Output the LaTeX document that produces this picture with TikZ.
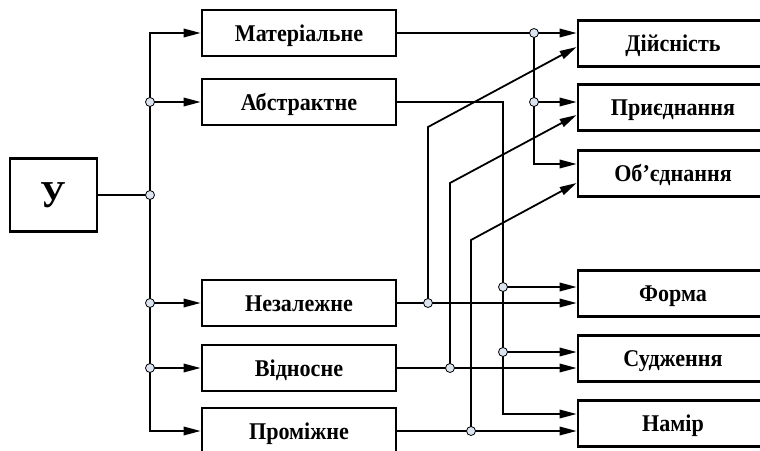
\documentclass[tikz,border=0pt]{standalone}
\usepackage{fontspec}
\setmainfont{Liberation Serif}[FakeStretch=0.92]
\usetikzlibrary{arrows.meta}
\definecolor{dotfill}{HTML}{DCE4F0}

\begin{document}
\begin{tikzpicture}[x=1pt,y=-1pt,
  box/.style={draw, line width=2.8pt, inner sep=0pt, minimum height=46pt,
    text height=16pt, text depth=0pt,
    font=\bfseries\fontsize{24}{26}\selectfont},
  lbox/.style={box, minimum width=194pt},
  rbox/.style={box, minimum width=190pt},
  dot/.style={circle, draw, fill=dotfill, line width=0.8pt, inner sep=0pt, minimum size=9pt},
  line/.style={line width=1.8pt},
  >={Triangle[length=17pt,width=8.5pt]}]
\useasboundingbox (0,0) rectangle (760,450);

\node[box, minimum width=87pt, minimum height=73pt, text height=25pt,
  font=\bfseries\fontsize{38}{40}\selectfont] (u) at (53.5,195) {У};

\node[lbox] (mat) at (299,33) {Матеріальне};
\node[lbox] (abs) at (299,102) {Абстрактне};
\node[lbox] (nez) at (299,303) {Незалежне};
\node[lbox] (vid) at (299,368) {Відносне};
\node[lbox] (pro) at (299,431) {Проміжне};

\node[rbox] (dij) at (673,43.5) {Дійсність};
\node[rbox] (pri) at (673,107.5) {Приєднання};
\node[rbox] (obj) at (673,173.5) {Об’єднання};
\node[rbox] (for) at (673,293.5) {Форма};
\node[rbox] (sud) at (673,358.5) {Судження};
\node[rbox] (nam) at (673,423.5) {Намір};

\coordinate (bus) at (150,195);
\coordinate (jm) at (534,33);
\coordinate (ja) at (503,102);
\coordinate (jn) at (428,303);
\coordinate (jv) at (450,368);
\coordinate (jp) at (471,431);

% left bus
\draw[line] (u.east) -- (bus);
\foreach \b in {mat,abs,nez,vid,pro}
  \draw[line,->] (bus) |- (\b.west);

% right side
\draw[line,->] (mat.east) -- (mat.east -| dij.west);
\draw[line,->] (jm) |- (pri.west |- abs.east);
\draw[line,->] (jm) |- ([yshift=9.5pt]obj.west);
\draw[line,->] (abs.east) -- (ja) |- ([yshift=9.5pt]nam.west);
\draw[line,->] (ja |- 0,287) -- ([yshift=6.5pt]for.west);
\draw[line,->] (ja |- 0,352) -- ([yshift=6.5pt]sud.west);
\draw[line,->] (nez.east) -- (nez.east -| for.west);
\draw[line,->] (vid.east) -- (vid.east -| sud.west);
\draw[line,->] (pro.east) -- (pro.east -| nam.west);
\draw[line,->] (jn) -- (428,127) -- ([yshift=-3.5pt]dij.west);
\draw[line,->] (jv) -- (450,183) -- ([yshift=-7.5pt]pri.west);
\draw[line,->] (jp) -- (471,240) -- ([yshift=-9.5pt]obj.west);

\foreach \p in {(150,102),(bus),(150,303),(150,368),(jm),(534,102),
  (jn),(jv),(jp),(503,287),(503,352)}
  \node[dot] at \p {};
\end{tikzpicture}
\end{document}
